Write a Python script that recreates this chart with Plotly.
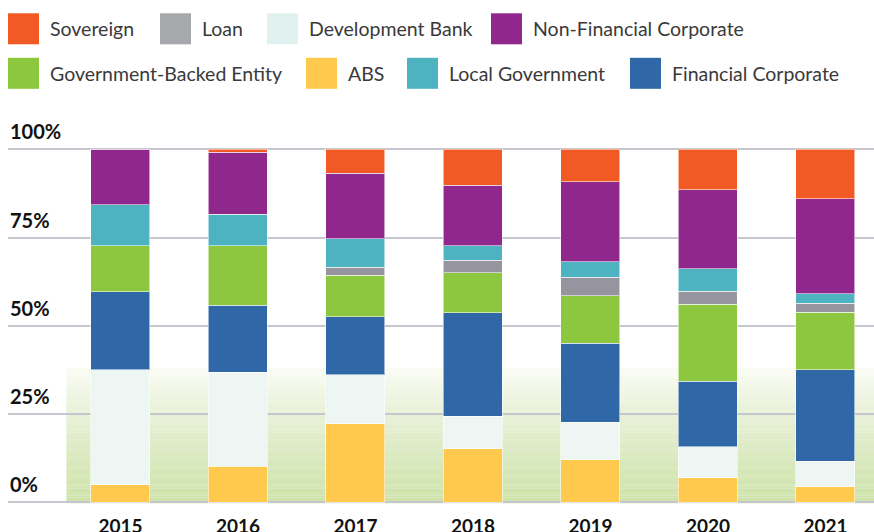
import plotly.graph_objects as go

# share of issuance by issuer type, percent of yearly total
years = [2015, 2016, 2017, 2018, 2019, 2020, 2021]

abs_share = [5.0, 10.2, 22.2, 15.2, 12.0, 6.9, 4.4]
development_bank = [32.6, 26.6, 13.9, 9.2, 10.7, 8.8, 7.3]
financial_corporate = [22.0, 19.0, 16.4, 29.3, 22.3, 18.6, 25.9]
government_backed = [13.1, 16.9, 11.8, 11.3, 13.5, 21.8, 16.2]
loan = [0.0, 0.0, 2.3, 3.6, 5.2, 3.7, 2.6]
local_government = [11.6, 8.9, 8.0, 4.1, 4.5, 6.3, 2.7]
non_financial_corporate = [15.7, 17.5, 18.6, 17.1, 22.6, 22.4, 26.9]
sovereign = [0.0, 0.9, 6.8, 10.2, 9.2, 11.5, 14.0]

y_ticks = [0, 25, 50, 75, 100]
y_tick_labels = ["0%", "25%", "50%", "75%", "100%"]

# stacking order, bottom to top
series = [
    ("ABS", abs_share, "#fec94d"),
    ("Development Bank", development_bank, "#edf6f3"),
    ("Financial Corporate", financial_corporate, "#3067a6"),
    ("Government-Backed Entity", government_backed, "#8dc63f"),
    ("Loan", loan, "#96959f"),
    ("Local Government", local_government, "#4db3c0"),
    ("Non-Financial Corporate", non_financial_corporate, "#90278c"),
    ("Sovereign", sovereign, "#f15a24"),
]
legend_colors = {name: color for name, _, color in series}
legend_colors["Loan"] = "#a7a8ac"
legend_colors["Development Bank"] = "#e1f1f0"

# legend layout: (name, swatch left px, row)
legend_items = [
    ("Sovereign", 8, 0), ("Loan", 160, 0),
    ("Development Bank", 267, 0), ("Non-Financial Corporate", 491, 0),
    ("Government-Backed Entity", 8, 1), ("ABS", 306, 1),
    ("Local Government", 407, 1), ("Financial Corporate", 630, 1),
]

# plot box in pixels; a little slack above 100% and below 0% so the
# edge gridlines are not clipped
PLOT_L, PLOT_W, PLOT_T, PLOT_H = 8, 866, 147, 357
Y_ZERO_PX, Y_FULL_PX = 502.3, 149.3
px_per_pct = (Y_ZERO_PX - Y_FULL_PX) / 100
Y_RANGE = [-(PLOT_T + PLOT_H - Y_ZERO_PX) / px_per_pct,
           100 + (Y_FULL_PX - PLOT_T) / px_per_pct]
X_RANGE = [2014.043, 2021.413]


def px_x(p):
    return (p - PLOT_L) / PLOT_W


def px_y(p):
    return (PLOT_T + PLOT_H - p) / PLOT_H


fig = go.Figure()

for name, values, color in series:
    fig.add_trace(go.Bar(
        x=years, y=values, name=name,
        width=0.502,
        marker=dict(color=color, line=dict(color="rgba(255,255,255,0.55)", width=1)),
        hovertemplate="%{x}: %{y:.1f}%<extra>" + name + "</extra>",
    ))

shapes = []

# soft green band behind the lower part of the chart
band_top = 38.1
stops = [(0.0, (205, 226, 168)), (25.0, (231, 240, 214)), (band_top, (250, 252, 245))]
steps = 60
for i in range(steps):
    y0 = band_top * i / steps
    y1 = band_top * (i + 1) / steps
    ym = (y0 + y1) / 2
    for (a, ca), (b, cb) in zip(stops[:-1], stops[1:]):
        if a <= ym <= b:
            t = (ym - a) / (b - a)
            rgb = tuple(round(ca[k] + (cb[k] - ca[k]) * t) for k in range(3))
            break
    shapes.append(dict(
        type="rect", xref="x", yref="y", layer="below",
        x0=2014.54, x1=X_RANGE[1], y0=y0 - (0.3 if i == 0 else 0), y1=y1 + 0.05,
        fillcolor="rgb(%d,%d,%d)" % rgb, line=dict(width=0),
    ))

annotations = []
for name, left, row in legend_items:
    top = 13.3 + row * 44.5
    shapes.append(dict(
        type="rect", xref="paper", yref="paper",
        x0=px_x(left), x1=px_x(left + 31), y0=px_y(top + 31), y1=px_y(top),
        fillcolor=legend_colors[name], line=dict(width=0),
    ))
    annotations.append(dict(
        text=name, xref="paper", yref="paper",
        x=px_x(left + 40), y=px_y(top + 15.5),
        xanchor="left", yanchor="middle", showarrow=False,
        font=dict(family="Lato", size=19.5, color="#3a3a3a"),
    ))

for val, label in zip(y_ticks, y_tick_labels):
    annotations.append(dict(
        text="<b>" + label + "</b>", xref="paper", yref="y",
        x=0, y=val, yshift=18, xanchor="left", yanchor="middle",
        showarrow=False, font=dict(family="Lato", size=20, color="#111111"),
    ))

fig.update_layout(
    width=874, height=532,
    margin=dict(l=PLOT_L, r=0, t=PLOT_T, b=532 - PLOT_T - PLOT_H, autoexpand=False),
    barmode="stack",
    showlegend=False,
    plot_bgcolor="white",
    paper_bgcolor="white",
    shapes=shapes,
    annotations=annotations,
    xaxis=dict(
        range=X_RANGE, tickvals=years, ticktext=["<b>%d</b>" % y for y in years],
        showgrid=False, zeroline=False, showline=False, ticks="",
        automargin=False, ticklabelstandoff=9,
        tickfont=dict(family="Lato", size=19, color="#111111"),
    ),
    yaxis=dict(
        range=Y_RANGE, tickvals=y_ticks, showticklabels=False,
        showgrid=True, gridcolor="#c6c6ce", gridwidth=1.5,
        zeroline=False, showline=False, ticks="", automargin=False,
    ),
)

# drop the browser's default page margin so the figure sits at the corner
fig.write_html(
    "out.html",
    config={"displayModeBar": False},
    post_script="document.body.style.margin = '0';",
)
